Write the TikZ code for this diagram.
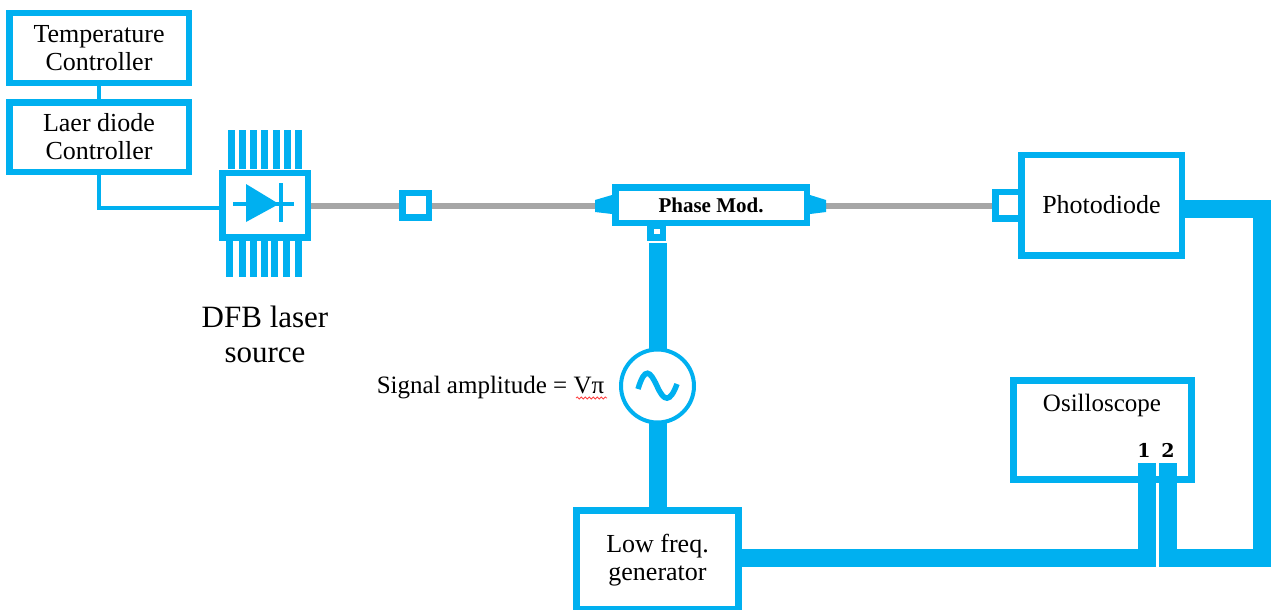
\documentclass[tikz,border=0pt]{standalone}
\usepackage{fontspec}
\setmainfont{Liberation Serif}
\newfontfamily\heavyfont{DejaVu Serif}
\usetikzlibrary{positioning}
\usetikzlibrary{decorations.pathmorphing}
\definecolor{linkblue}{HTML}{00B0F0}
\definecolor{fibergray}{HTML}{A6A6A6}

\begin{document}
\begin{tikzpicture}[x=1pt,y=-1pt,
boxnode/.style={rectangle, draw=linkblue, fill=white, line width=6.5pt, inner sep=0pt, align=center,
font=\fontsize{26}{28}\selectfont},
ctrlnode/.style={boxnode, minimum width=179.5pt, minimum height=69.5pt},
portnode/.style={rectangle, draw=linkblue, fill=white, line width=6.5pt, inner sep=0pt},
textnode/.style={inner sep=0pt, align=center, font=\fontsize{25}{28}\selectfont},
chnode/.style={inner sep=0pt, font=\fontsize{19}{20}\selectfont\heavyfont\bfseries},
ctrlline/.style={draw=linkblue, line width=4.5pt},
fiberline/.style={draw=fibergray, line width=6pt},
coaxline/.style={draw=linkblue, line width=18pt},
pinline/.style={draw=linkblue, line width=7pt}
]
\useasboundingbox (0,0) rectangle (1271,610);
%Nodes
\node[ctrlnode]    (temp)                     at (99,48)   {Temperature\\Controller};
\node[ctrlnode]    (laser)    [below=13pt of temp]         {Laer diode\\Controller};
\node[portnode, minimum width=85.5pt, minimum height=64.5pt] (dfb) at (265,205) {};
\node[textnode, font=\fontsize{31}{35}\selectfont] (dfblabel) at (265,334) {DFB laser\\source};
\node[portnode, minimum width=26.5pt, minimum height=24.5pt] (iso) [right=88pt of dfb] {};
\node[boxnode, minimum width=191.5pt, minimum height=35.5pt, font=\fontsize{21}{24}\selectfont\bfseries] (phase) [right=180pt of iso] {Phase Mod.};
\node[portnode, minimum width=25.5pt, minimum height=26.5pt] (pdport) [right=182pt of phase] {};
\node[boxnode, minimum width=160.5pt, minimum height=100.5pt] (pd) [right=-6pt of pdport] {Photodiode};
\node[rectangle, fill=linkblue, minimum width=19pt, minimum height=15pt, inner sep=0pt] (bias) at (656.5,233.5) {};
\node[rectangle, fill=white, minimum width=6pt, minimum height=5pt, inner sep=0pt] (biashole) at (657,231.5) {};
\node[circle, draw=linkblue, fill=white, line width=4pt, minimum size=73pt, inner sep=0pt, outer sep=0pt] (src) at (657.5,386) {};
\node[textnode] (amp) at (490.5,387.5) {Signal amplitude = Vπ};
\node[boxnode, line width=7pt, minimum width=162pt, minimum height=99pt] (gen) at (657.5,560) {Low freq.\\generator};
\node[boxnode, line width=7pt, minimum width=178pt, minimum height=99pt] (scope) at (1102.5,430) {};
\node[textnode] (scopelabel) at (1102,405) {Osilloscope};
\node[chnode] (chone) at (1144,450) {1};
\node[chnode] (chtwo) at (1168,450) {2};
%Points
\coordinate (tipl) at (595,206);
\coordinate (tipr) at (826,206);
\coordinate (rfin) at (657.5,243);
\coordinate (inone) at (1147,463);
\coordinate (intwo) at (1168,463);
\coordinate (lowone) at (1147,557.5);
\coordinate (lowtwo) at (1168,557.5);
\coordinate (edgelow) at (1262,557.5);
\coordinate (edgehigh) at (1262,208.5);
%Lines
\draw[ctrlline] (temp.south) -- (laser.north);
\draw[ctrlline] (laser.south) |- ([yshift=-3pt]dfb.west);
\draw[fiberline] ([yshift=-1pt]dfb.east) -- ([yshift=-1pt]iso.west);
\draw[fiberline] ([yshift=-1pt]iso.east) -- (tipl);
\draw[fiberline] (tipr) -- ([yshift=-1pt]pdport.west);
\draw[coaxline] (rfin) -- (src.north);
\draw[coaxline] (src.south) -- (gen.north);
\draw[coaxline] (gen.east |- lowone) -- (lowone) -- (inone);
\draw[coaxline] (intwo) -- (lowtwo) -- (edgelow) -- (edgehigh) -- (pd.east |- edgehigh);
%Tapers
\fill[linkblue] (612,195) -- (tipl |- 0,200) -- (tipl |- 0,212) -- (612,214) -- cycle;
\fill[linkblue] (810,195) -- (tipr |- 0,200) -- (tipr |- 0,212) -- (810,214) -- cycle;
%Pins
\foreach \x in {231,242,253,264,276,287,298}
    \draw[pinline] (\x,130) -- (\x,169);
\foreach \x in {229.5,242,253,264,274,286.5,298}
    \draw[pinline] (\x,240) -- (\x,277);
%Diode
\draw[ctrlline, line width=4pt] (233,204) -- (294,204);
\draw[ctrlline, line width=4pt] (281,183) -- (281,222);
\fill[linkblue] (246,184) -- (279,204) -- (246,222) -- cycle;
%Sine
\draw[linkblue, line width=5.5pt] (638,389) .. controls (645,366) and (650,371) .. (657,386) .. controls (664,402) and (670,403) .. (677,384);
%Squiggle
\draw[red!75, line width=.8pt, decorate, decoration={snake, segment length=4pt, amplitude=1pt}] (576,398) -- (607,398);
\end{tikzpicture}
\end{document}
